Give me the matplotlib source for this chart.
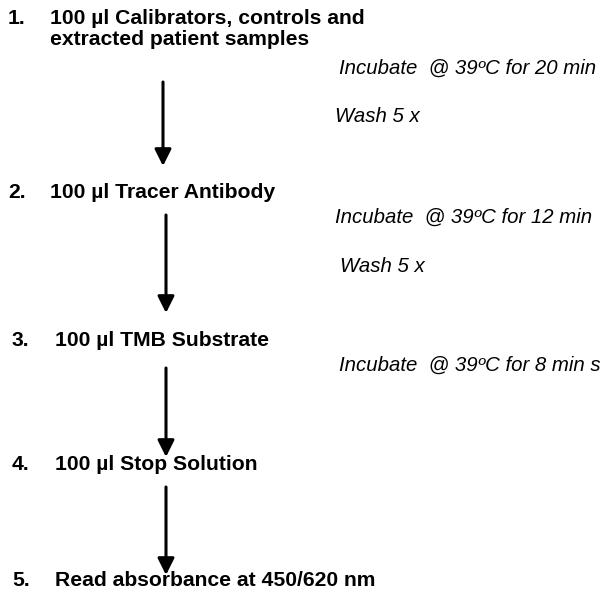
import matplotlib
matplotlib.use("Agg")
import matplotlib.pyplot as plt

# ====================
# 1. content
# ====================
step_nums = ["1.", "2.", "3.", "4.", "5."]
step_texts = [
    "100 µl Calibrators, controls and\nextracted patient samples",
    "100 µl Tracer Antibody",
    "100 µl TMB Substrate",
    "100 µl Stop Solution",
    "Read absorbance at 450/620 nm",
]
# layout (pixels, top-left origin)
num_x = [8, 8, 12, 12, 12]
num_y = [18, 192, 340, 465, 581]
text_x = [50, 50, 55, 55, 55]
text_y = [29, 192, 340, 465, 581]

notes = [
    "Incubate  @ 39ºC for 20 min",
    "Wash 5 x",
    "Incubate  @ 39ºC for 12 min",
    "Wash 5 x",
    "Incubate  @ 39ºC for 8 min s",
]
note_x = [339, 335, 335, 340, 339]
note_y = [68, 117, 217, 267, 365]

arrow_x = [163, 166, 166, 166]
arrow_y0 = [82, 215, 368, 487]
arrow_y1 = [166, 313, 457, 575]

# ====================
# 2. drawing
# ====================
plt.rcParams["font.family"] = ["Liberation Sans", "DejaVu Sans"]

fig = plt.figure(figsize=(6.06, 6.0), dpi=100)
ax = fig.add_axes([0, 0, 1, 1])
ax.set_xlim(0, 606)
ax.set_ylim(600, 0)
ax.axis("off")

bold_size = 15.2
for n, nx, ny in zip(step_nums, num_x, num_y):
    ax.text(nx, ny, n, fontsize=bold_size, fontweight="bold", va="center")
for t, tx, ty in zip(step_texts, text_x, text_y):
    ax.text(tx, ty, t, fontsize=bold_size, fontweight="bold",
            va="center", linespacing=1.12)

for t, x, y in zip(notes, note_x, note_y):
    ax.text(x, y, t, fontsize=14.7, style="italic", va="center")

for x, y0, y1 in zip(arrow_x, arrow_y0, arrow_y1):
    ax.annotate("", xy=(x, y1), xytext=(x, y0),
                arrowprops=dict(arrowstyle="-|>,head_length=1.0,head_width=0.5",
                                lw=2.2, color="black", shrinkA=0, shrinkB=0))

fig.savefig("out.png", dpi=100)
